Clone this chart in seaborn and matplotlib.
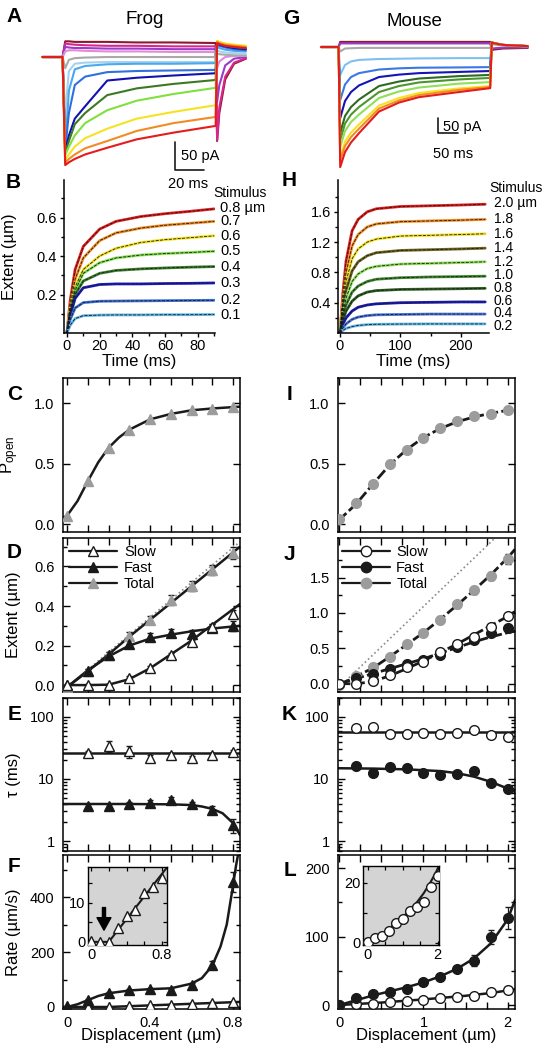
import numpy as np
import pandas as pd
import matplotlib
matplotlib.use("Agg")
import matplotlib.pyplot as plt
import seaborn as sns
from matplotlib.lines import Line2D
from matplotlib.ticker import MultipleLocator, NullFormatter

sns.set_theme(style="ticks")
plt.rcParams["font.family"] = ["Liberation Sans", "DejaVu Sans"]
plt.rcParams["mathtext.default"] = "regular"
for k in ["axes.edgecolor", "xtick.color", "ytick.color", "axes.labelcolor", "text.color"]:
    plt.rcParams[k] = "black"

# ---------------- data ----------------
# A: frog MET currents (pA) vs time (ms)
frog_time = [-14, -0.3, 1.5, 4, 8, 15, 30, 50, 75, 103.5, 104.5, 106, 110, 116, 124]
frog_names = ["maroon", "magenta", "purple", "orchid", "gray", "lightblue", "sky",
              "royal", "navy", "dgreen", "lgreen", "yellow", "orange", "red"]
frog_colors = ["#8b1a2e", "#d9268f", "#9a3cc8", "#e48ad8", "#a9a9a9", "#a6d2ef", "#4aa8ec",
               "#2f6fe0", "#1212b0", "#3b7a22", "#7fe03e", "#f5e322", "#f28c22", "#e41c1c"]
frog_currents = [
    [0, 0, 28, 28, 27, 27, 27, 26, 26, 25, -150, -100, -40, -12, -3],
    [0, 0, 24, 23, 22, 21, 20, 20, 19, 19, -148, -90, -35, -10, -2],
    [0, 0, 18, 17, 16, 16, 15, 15, 14, 14, -80, -50, -15, -3, 0],
    [0, 0, 10, 12, 12, 11, 10, 10, 9, 9, -20, -8, 0, 2, 2],
    [0, 0, -20, -5, -2, -1, 0, 0, 0, 0, 6, 5, 4, 3, 3],
    [0, 0, -100, -25, -12, -10, -9, -9, -9, -9, 12, 10, 8, 7, 6],
    [0, 0, -160, -60, -22, -16, -13, -12, -12, -11, 18, 16, 13, 11, 10],
    [0, 0, -165, -100, -50, -35, -27, -25, -24, -23, 22, 20, 17, 14, 12],
    [0, 0, -167, -140, -110, -88, -42, -37, -33, -29, 24, 22, 19, 16, 14],
    [0, 0, -171, -150, -120, -100, -68, -56, -48, -41, 26, 24, 21, 18, 16],
    [0, 0, -175, -160, -140, -118, -95, -78, -66, -55, 28, 26, 23, 20, 18],
    [0, 0, -184, -174, -160, -145, -128, -110, -98, -86, 29, 27, 24, 22, 20],
    [0, 0, -189, -182, -174, -163, -150, -132, -118, -107, 27, 25, 22, 20, 18],
    [0, 0, -193, -188, -182, -174, -162, -147, -135, -123, 25, 23, 20, 18, 16],
]

# G: mouse MET currents
mouse_time = [-45, -1, 3, 15, 30, 50, 100, 150, 200, 300, 378, 382, 390, 410, 472]
mouse_names = ["maroon", "purple", "gray", "lightblue", "royal", "navy", "dgreen",
               "green", "lgreen", "yellow", "orange", "red"]
mouse_colors = ["#8b1a2e", "#9a3cc8", "#a9a9a9", "#7fc0ec", "#3a78e6", "#1414b8", "#2e6b22",
                "#4c9630", "#8fe054", "#f5e322", "#f28c22", "#e41c1c"]
mouse_currents = [
    [0, 0, 17, 17, 17, 17, 17, 17, 17, 17, 17, -10, -8, -5, -3],
    [0, 0, 12, 12, 12, 12, 12, 12, 12, 12, 12, -5, -4, -2, -1],
    [0, 0, -15, -5, -4, -3, -3, -3, -3, -3, -3, 10, 8, 5, 2],
    [0, 0, -93, -60, -48, -43, -40, -39, -38, -37, -37, 14, 11, 6, 2],
    [0, 0, -177, -125, -100, -87, -75, -71, -69, -68, -67, 15, 12, 7, 3],
    [0, 0, -237, -180, -150, -128, -100, -92, -87, -83, -80, 15, 12, 7, 3],
    [0, 0, -287, -230, -200, -175, -130, -115, -105, -97, -93, 15, 12, 7, 3],
    [0, 0, -310, -255, -225, -200, -150, -130, -118, -108, -103, 15, 12, 7, 3],
    [0, 0, -333, -280, -250, -225, -170, -148, -135, -122, -117, 15, 12, 7, 3],
    [0, 0, -367, -315, -285, -258, -195, -170, -153, -138, -130, 15, 12, 7, 3],
    [0, 0, -377, -330, -300, -272, -205, -178, -160, -143, -133, 15, 12, 7, 3],
    [0, 0, -400, -350, -318, -287, -215, -185, -167, -150, -137, 15, 12, 7, 3],
]

# B: frog bundle extent
b_time = [0, 2, 5, 10, 20, 30, 45, 60, 75, 90]
b_labels = ["0.8 µm", "0.7", "0.6", "0.5", "0.4", "0.3", "0.2", "0.1"]
b_label_y = [0.647, 0.58, 0.505, 0.425, 0.345, 0.26, 0.17, 0.096]
b_colors = ["#e41c1c", "#f28c22", "#f5e322", "#80e04a", "#3a7d2a", "#1a1ac0", "#3b6fd8", "#62b8ea"]
b_extent = [
    [0, 0.17, 0.33, 0.45, 0.54, 0.58, 0.605, 0.62, 0.632, 0.645],
    [0, 0.14, 0.28, 0.39, 0.48, 0.52, 0.545, 0.56, 0.57, 0.58],
    [0, 0.12, 0.24, 0.33, 0.40, 0.44, 0.47, 0.485, 0.495, 0.505],
    [0, 0.11, 0.22, 0.31, 0.365, 0.39, 0.405, 0.413, 0.418, 0.425],
    [0, 0.10, 0.20, 0.27, 0.31, 0.325, 0.333, 0.338, 0.342, 0.345],
    [0, 0.09, 0.18, 0.235, 0.252, 0.255, 0.255, 0.257, 0.258, 0.26],
    [0, 0.07, 0.13, 0.158, 0.165, 0.166, 0.167, 0.168, 0.169, 0.17],
    [0, 0.04, 0.075, 0.09, 0.093, 0.094, 0.094, 0.095, 0.095, 0.096],
]

# H: mouse bundle extent
h_time = [0, 5, 10, 20, 30, 45, 60, 100, 150, 200, 240]
h_labels = ["2.0 µm", "1.8", "1.6", "1.4", "1.2", "1.0", "0.8", "0.6", "0.4", "0.2"]
h_label_y = [1.71, 1.50, 1.31, 1.12, 0.94, 0.76, 0.595, 0.425, 0.265, 0.095]
h_colors = ["#e41c1c", "#f28c22", "#f5e322", "#6e6420", "#8ee05a", "#3f8a2e", "#2e5e22",
            "#1a1ab8", "#4a74dc", "#62b8ea"]
h_extent = [
    [0, 0.55, 0.95, 1.35, 1.5, 1.6, 1.64, 1.67, 1.68, 1.69, 1.70],
    [0, 0.45, 0.8, 1.15, 1.3, 1.4, 1.44, 1.47, 1.48, 1.49, 1.50],
    [0, 0.38, 0.68, 0.98, 1.11, 1.2, 1.24, 1.28, 1.29, 1.30, 1.31],
    [0, 0.32, 0.56, 0.82, 0.94, 1.02, 1.06, 1.09, 1.10, 1.11, 1.12],
    [0, 0.27, 0.46, 0.68, 0.78, 0.85, 0.88, 0.91, 0.92, 0.93, 0.94],
    [0, 0.22, 0.37, 0.54, 0.62, 0.68, 0.71, 0.73, 0.74, 0.745, 0.75],
    [0, 0.17, 0.29, 0.42, 0.49, 0.54, 0.56, 0.575, 0.58, 0.585, 0.59],
    [0, 0.12, 0.20, 0.29, 0.34, 0.37, 0.385, 0.40, 0.405, 0.41, 0.41],
    [0, 0.07, 0.12, 0.18, 0.21, 0.23, 0.24, 0.245, 0.25, 0.25, 0.25],
    [0, 0.035, 0.06, 0.085, 0.10, 0.11, 0.115, 0.118, 0.12, 0.12, 0.12],
]

# C-F: frog vs displacement
frog_disp = [0, 0.1, 0.2, 0.3, 0.4, 0.5, 0.6, 0.7, 0.8]
frog_popen = [0.07, 0.355, 0.63, 0.78, 0.87, 0.91, 0.94, 0.95, 0.97]
frog_popen_fit_x = [-0.02, 0, 0.05, 0.1, 0.15, 0.2, 0.25, 0.3, 0.4, 0.5, 0.6, 0.7, 0.834]
frog_popen_fit_y = [0.05, 0.07, 0.19, 0.355, 0.51, 0.63, 0.715, 0.78, 0.865, 0.91, 0.94, 0.955, 0.97]

frog_slow_ext = [0, 0, 0, 0.035, 0.085, 0.15, 0.22, 0.295, 0.36]
frog_slow_err = [0, 0.005, 0.005, 0.01, 0.01, 0.01, 0.01, 0.015, 0.02]
frog_fast_ext = [0, 0.07, 0.15, 0.21, 0.245, 0.265, 0.26, 0.29, 0.30]
frog_fast_err = [0.005, 0.01, 0.015, 0.02, 0.02, 0.02, 0.02, 0.02, 0.025]
frog_total_ext = [-0.01, 0.07, 0.15, 0.25, 0.33, 0.43, 0.50, 0.58, 0.67]
frog_total_err = [0.005, 0.01, 0.015, 0.02, 0.02, 0.025, 0.025, 0.025, 0.03]
frog_fit_x = [0, 0.1, 0.2, 0.3, 0.4, 0.5, 0.6, 0.7, 0.834]
frog_total_fit = [-0.01, 0.07, 0.155, 0.245, 0.33, 0.415, 0.5, 0.585, 0.70]
frog_fast_fit = [-0.01, 0.075, 0.145, 0.2, 0.235, 0.255, 0.272, 0.286, 0.30]
frog_slow_fit = [0.0, 0.0, 0.002, 0.03, 0.085, 0.155, 0.225, 0.305, 0.41]
frog_dotted_x = [0, 0.834]
frog_dotted_y = [-0.01, 0.725]

frog_tau_x = [0.1, 0.2, 0.3, 0.4, 0.5, 0.6, 0.7, 0.8]
frog_slow_tau = [26, 34, 28, 22, 24, 22, 24, 27]
frog_slow_tau_err = [2, 7, 6, 2, 2, 1.5, 2, 2]
frog_fast_tau = [3.7, 3.6, 3.9, 4.1, 4.5, 3.9, 3.2, 1.8]
frog_fast_tau_err = [0.3, 0.3, 0.4, 0.5, 0.6, 0.4, 0.4, 0.45]
frog_slow_tau_fit_x = [-0.02, 0.834]
frog_slow_tau_fit_y = [26, 26]
frog_fast_tau_fit_x = [-0.02, 0.1, 0.3, 0.5, 0.6, 0.65, 0.7, 0.75, 0.8, 0.834]
frog_fast_tau_fit_y = [3.95, 3.95, 3.95, 3.9, 3.8, 3.6, 3.3, 2.8, 1.95, 1.25]

frog_fast_rate = [2, 25, 52, 62, 65, 62, 80, 153, 455]
frog_fast_rate_err = [1, 3, 4, 4, 5, 5, 6, 15, 35]
frog_slow_rate = [0.1, 0, 0, 3.5, 6.7, 8.2, 12.5, 14.1, 16.4]
frog_fast_rate_fit_x = [0, 0.05, 0.1, 0.15, 0.2, 0.3, 0.4, 0.5, 0.6, 0.65, 0.7, 0.74, 0.77, 0.8, 0.815, 0.826]
frog_fast_rate_fit_y = [0, 10, 25, 40, 50, 60, 65, 68, 85, 105, 150, 220, 300, 440, 515, 560]
frog_slow_rate_fit_x = [-0.034, 0.2, 0.856]
frog_slow_rate_fit_y = [0, 0, 19.1]

# I-L: mouse vs displacement
mouse_disp = [0, 0.2, 0.4, 0.6, 0.8, 1.0, 1.2, 1.4, 1.6, 1.8, 2.0]
mouse_popen = [0.04, 0.17, 0.33, 0.50, 0.61, 0.71, 0.79, 0.85, 0.89, 0.91, 0.94]
mouse_popen_fit_x = [-0.015, 0, 0.2, 0.4, 0.6, 0.8, 1.0, 1.2, 1.4, 1.6, 1.8, 2.0, 2.087]
mouse_popen_fit_y = [0.03, 0.035, 0.165, 0.33, 0.49, 0.615, 0.715, 0.79, 0.845, 0.885, 0.915, 0.94, 0.95]

mouse_slow_ext = [0, 0, 0.04, 0.12, 0.23, 0.31, 0.44, 0.56, 0.66, 0.80, 0.95]
mouse_slow_err = [0, 0, 0.01, 0.01, 0.01, 0.02, 0.02, 0.03, 0.03, 0.04, 0.04]
mouse_fast_ext = [0, 0.08, 0.14, 0.2, 0.27, 0.34, 0.41, 0.51, 0.62, 0.71, 0.78]
mouse_fast_err = [0, 0.01, 0.01, 0.01, 0.02, 0.02, 0.02, 0.03, 0.03, 0.04, 0.05]
mouse_total_ext = [-0.02, 0.1, 0.24, 0.38, 0.56, 0.72, 0.9, 1.12, 1.32, 1.52, 1.76]
mouse_total_err = [0.01, 0.01, 0.015, 0.02, 0.02, 0.03, 0.04, 0.05, 0.05, 0.06, 0.07]
mouse_fit_x = [0, 0.2, 0.4, 0.6, 0.8, 1.0, 1.2, 1.4, 1.6, 1.8, 2.0, 2.087]
mouse_total_fit = [-0.02, 0.1, 0.22, 0.38, 0.55, 0.72, 0.91, 1.11, 1.32, 1.54, 1.78, 1.9]
mouse_slow_fit = [0, -0.005, 0.03, 0.11, 0.21, 0.32, 0.44, 0.56, 0.69, 0.82, 0.95, 1.02]
mouse_fast_fit = [0, 0.07, 0.14, 0.21, 0.28, 0.35, 0.43, 0.51, 0.59, 0.66, 0.72, 0.74]
mouse_dotted_x = [0, 1.85]
mouse_dotted_y = [-0.05, 2.06]

mouse_tau_x = [0.2, 0.4, 0.6, 0.8, 1.0, 1.2, 1.4, 1.6, 1.8, 2.0]
mouse_slow_tau = [66, 68, 53, 53, 56, 53, 56, 62, 51, 47]
mouse_fast_tau = [16.2, 12.7, 15.8, 14.9, 12.3, 11.6, 12.0, 13.6, 8.5, 6.8]
mouse_slow_tau_fit_x = [-0.015, 2.087]
mouse_slow_tau_fit_y = [57.5, 57.5]
mouse_fast_tau_fit_x = [-0.015, 0.4, 0.8, 1.2, 1.4, 1.6, 1.8, 2.0, 2.087]
mouse_fast_tau_fit_y = [14.9, 14.7, 14.3, 13.4, 12.4, 10.9, 9.0, 7.0, 6.2]

mouse_fast_rate = [0, 9.7, 16, 19.5, 23, 33, 40.4, 52.5, 64.7, 99.7, 126.6]
mouse_fast_rate_err = [0, 2, 2, 3, 3, 3, 3, 4, 8, 10, 16]
mouse_slow_rate = [0.3, 1.5, 2.2, 4, 6.5, 7.8, 10.7, 11.8, 13.5, 18.5, 22.2]
mouse_fast_rate_fit_x = [0, 0.2, 0.4, 0.6, 0.8, 1.0, 1.2, 1.4, 1.6, 1.8, 2.0, 2.087]
mouse_fast_rate_fit_y = [0, 7, 14, 20, 26, 33, 42, 53, 68, 90, 125, 153]
mouse_slow_rate_fit_x = [0, 0.5, 1.0, 1.5, 1.8, 2.087]
mouse_slow_rate_fit_y = [0, 3.6, 8.2, 13.5, 17.5, 23]
inset_slow_fit_x = [-0.134, 0.2, 0.5, 0.8, 1.1, 1.4, 1.6, 1.8, 1.95, 2.037]
inset_slow_fit_y = [-0.2, 1.3, 3.6, 6.5, 9.6, 13.4, 16.5, 20.3, 23.5, 25.7]

GRAY = "#9c9c9c"

# ---------------- figure ----------------
W, H = 552, 1050
fig = plt.figure(figsize=(W / 100, H / 100), dpi=100)


def px_axes(x0, y0, x1, y1):
    return fig.add_axes([x0 / W, 1 - y1 / H, (x1 - x0) / W, (y1 - y0) / H])


def fig_text(x, y, s, **kw):
    fig.text(x / W, 1 - y / H, s, **kw)


def long_df(time, rows, names, col):
    recs = [(t, v, n) for n, r in zip(names, rows) for t, v in zip(time, r)]
    return pd.DataFrame(recs, columns=["t", col, "trace"])


def fit(ax, x, y, ls="-", lw=1.8, color="k"):
    sns.lineplot(x=x, y=y, ax=ax, color=color, lw=lw, linestyle=ls,
                 sort=False, estimator=None, zorder=2)


def pts(ax, x, y, err=None, marker="^", fill="k", edge="k", ms=7.5):
    ax.errorbar(x, y, yerr=err, fmt=marker, ms=ms, mfc=fill, mec=edge, mew=1,
                ecolor="k", elinewidth=0.9, capsize=2.5, capthick=0.9, zorder=3)


def boxed(ax, xmajor, xminor, xlabels=False):
    for sp in ax.spines.values():
        sp.set_visible(True)
        sp.set_linewidth(1.1)
        sp.set_color("black")
    ax.xaxis.set_major_locator(MultipleLocator(xmajor))
    ax.xaxis.set_minor_locator(MultipleLocator(xminor))
    ax.tick_params(which="both", direction="in", top=True, right=True, left=True,
                   bottom=True, labelsize=10.5, width=1, length=5)
    ax.tick_params(axis="y", which="minor", length=3)
    ax.tick_params(axis="y", pad=6)
    ax.tick_params(axis="x", pad=5, labelbottom=xlabels)
    ax.set_xlabel("")
    ax.set_ylabel("")


def traces(ax, time, rows, names, colors, xlim, ylim):
    df = long_df(time, rows, names, "pA")
    sns.lineplot(data=df, x="t", y="pA", hue="trace", palette=dict(zip(names, colors)),
                 legend=False, lw=1.5, estimator=None, sort=False, ax=ax)
    ax.set_xlim(*xlim)
    ax.set_ylim(*ylim)
    ax.axis("off")


# A and G: current traces with scale bars
axA = px_axes(40, 35, 250, 180)
traces(axA, frog_time, frog_currents, frog_names, frog_colors, (-15.6, 126.8), (-219.6, 39.3))
axA.plot([75.9, 75.9, 95.9], [-151.8, -201.8, -201.8], color="k", lw=1.2, clip_on=False)

axG = px_axes(318, 35, 532, 180)
traces(axG, mouse_time, mouse_currents, mouse_names, mouse_colors, (-52.5, 482.5), (-443, 40))
axG.plot([247.5, 247.5, 297.5], [-236.7, -286.7, -286.7], color="k", lw=1.2, clip_on=False)

fig_text(181, 156, "50 pA", fontsize=10.5, ha="left", va="center")
fig_text(188, 184, "20 ms", fontsize=10.5, ha="center", va="center")
fig_text(443, 127, "50 pA", fontsize=10.5, ha="left", va="center")
fig_text(453, 154, "50 ms", fontsize=10.5, ha="center", va="center")
fig_text(145, 20, "Frog", fontsize=13.5, ha="center", va="center")
fig_text(414, 22, "Mouse", fontsize=13.5, ha="center", va="center")


# B and H: bundle displacement traces
def extent_panel(box, time, rows, labels, label_y, colors, xlim, ylim, xt, xtm, yt, ytm,
                 lab_x, stim_xy, lab_size):
    ax = px_axes(*box)
    df = long_df(time, rows, labels, "ext")
    sns.lineplot(data=df, x="t", y="ext", hue="trace", palette=dict(zip(labels, colors)),
                 legend=False, lw=2, estimator=None, sort=False, ax=ax)
    sns.lineplot(data=df, x="t", y="ext", units="trace", color="k", lw=0.6, linestyle="--",
                 estimator=None, sort=False, ax=ax)
    for lab, ly in zip(labels, label_y):
        ax.text(lab_x, ly, lab, fontsize=lab_size, ha="left", va="center")
    ax.text(stim_xy[0], stim_xy[1], "Stimulus", fontsize=10, ha="center", va="center")
    ax.set_xlim(*xlim)
    ax.set_ylim(*ylim)
    sns.despine(ax=ax)
    ax.spines["left"].set_linewidth(1.1)
    ax.spines["bottom"].set_linewidth(1.1)
    ax.set_xticks(xt)
    ax.set_xticks(xtm, minor=True)
    ax.set_yticks(yt)
    ax.set_yticks(ytm, minor=True)
    ax.tick_params(which="both", direction="out", labelsize=10.5, width=1)
    ax.tick_params(which="major", length=3)
    ax.tick_params(which="minor", length=2)
    ax.tick_params(axis="x", pad=1.5)
    ax.tick_params(axis="y", pad=2)
    ax.set_xlabel("Time (ms)", fontsize=12)
    ax.xaxis.set_label_coords(0.5, -0.14)
    ax.set_ylabel("")
    return ax


axB = extent_panel((64, 180, 215, 333), b_time, b_extent, b_labels, b_label_y, b_colors,
                   (-1.8, 90.5), (0, 0.795), [0, 20, 40, 60, 80], [10, 30, 50, 70, 90],
                   [0.2, 0.4, 0.6], [0.1, 0.3, 0.5, 0.7], 93.5, (106, 0.725), 10.5)
axB.set_ylabel("Extent (µm)", fontsize=12)
axB.yaxis.set_label_coords(-0.31, 0.5)

axH = extent_panel((338, 180, 489, 333), h_time, h_extent, h_labels, h_label_y, h_colors,
                   (-3.3, 246.3), (0, 2.02), [0, 100, 200], [50, 150],
                   [0.4, 0.8, 1.2, 1.6], [0.2, 0.6, 1.0, 1.4, 1.8], 254.5, (291, 1.92), 10)

# C / I: open probability
axC = px_axes(63, 378, 240, 532)
fit(axC, frog_popen_fit_x, frog_popen_fit_y)
pts(axC, frog_disp, frog_popen, marker="^", fill=GRAY, edge=GRAY)
axC.set_xlim(-0.02, 0.834)
axC.set_ylim(-0.066, 1.207)
boxed(axC, 0.4, 0.1)
axC.set_yticks([0, 0.5, 1.0])
axC.set_ylabel(r"$P_{open}$", fontsize=12)
axC.yaxis.set_label_coords(-0.24, 0.5)

axI = px_axes(338, 378, 515, 532)
fit(axI, mouse_popen_fit_x, mouse_popen_fit_y, ls=(0, (4, 1.2)), lw=2)
pts(axI, mouse_disp, mouse_popen, marker="o", fill=GRAY, edge=GRAY, ms=7)
axI.set_xlim(-0.015, 2.087)
axI.set_ylim(-0.066, 1.207)
boxed(axI, 1, 0.25)
axI.set_yticks([0, 0.5, 1.0])

# D / J: extent components
axD = px_axes(63, 538, 240, 692)
fit(axD, frog_dotted_x, frog_dotted_y, ls=":", lw=1.2, color="#8a8a8a")
fit(axD, frog_fit_x, frog_total_fit)
fit(axD, frog_fit_x, frog_fast_fit)
fit(axD, frog_fit_x, frog_slow_fit)
pts(axD, frog_disp, frog_total_ext, frog_total_err, "^", GRAY, GRAY)
pts(axD, frog_disp, frog_fast_ext, frog_fast_err, "^", "k", "k")
pts(axD, frog_disp, frog_slow_ext, frog_slow_err, "^", "white", "k")
axD.set_xlim(-0.02, 0.834)
axD.set_ylim(-0.035, 0.744)
boxed(axD, 0.4, 0.1)
axD.yaxis.set_major_locator(MultipleLocator(0.2))
axD.yaxis.set_minor_locator(MultipleLocator(0.1))
axD.set_ylabel("Extent (µm)", fontsize=12)
axD.yaxis.set_label_coords(-0.24, 0.5)


def comp_legend(ax, marker, x0):
    hs = [Line2D([], [], color="k", lw=1.6, marker=marker, ms=7.5, mfc=f, mec=e, mew=1)
          for f, e in [("white", "k"), ("k", "k"), (GRAY, GRAY)]]
    ax.legend(hs, ["Slow", "Fast", "Total"], loc="upper left", bbox_to_anchor=(x0, 0.955),
              frameon=False, fontsize=10.5, handlelength=3.3, handletextpad=0.45,
              labelspacing=0.15, borderpad=0, borderaxespad=0)


comp_legend(axD, "^", 0.035)

axJ = px_axes(338, 538, 515, 692)
fit(axJ, mouse_dotted_x, mouse_dotted_y, ls=":", lw=1.2, color="#8a8a8a")
fit(axJ, mouse_fit_x, mouse_total_fit, ls=(0, (4, 1.2)), lw=2)
fit(axJ, mouse_fit_x, mouse_fast_fit, ls=(0, (4, 1.2)), lw=2)
fit(axJ, mouse_fit_x, mouse_slow_fit, ls=(0, (4, 1.2)), lw=2)
pts(axJ, mouse_disp, mouse_total_ext, mouse_total_err, "o", GRAY, GRAY, 7)
pts(axJ, mouse_disp, mouse_fast_ext, mouse_fast_err, "o", "k", "k", 7)
pts(axJ, mouse_disp, mouse_slow_ext, mouse_slow_err, "o", "white", "k", 7)
axJ.set_xlim(-0.015, 2.087)
axJ.set_ylim(-0.12, 2.06)
boxed(axJ, 1, 0.25)
axJ.set_yticks([0, 0.5, 1.0, 1.5])
axJ.set_yticks([0.25, 0.75, 1.25, 1.75], minor=True)
comp_legend(axJ, "o", 0.02)


# E / K: time constants
def log_axis(ax):
    ax.set_yscale("log")
    ax.set_yticks([1, 10, 100], labels=["1", "10", "100"])
    ax.yaxis.set_minor_formatter(NullFormatter())


axE = px_axes(63, 698, 240, 851)
fit(axE, frog_slow_tau_fit_x, frog_slow_tau_fit_y)
fit(axE, frog_fast_tau_fit_x, frog_fast_tau_fit_y)
pts(axE, frog_tau_x, frog_slow_tau, frog_slow_tau_err, "^", "white", "k")
pts(axE, frog_tau_x, frog_fast_tau, frog_fast_tau_err, "^", "k", "k")
axE.set_xlim(-0.02, 0.834)
boxed(axE, 0.4, 0.1)
log_axis(axE)
axE.set_ylim(0.69, 202)
axE.set_ylabel("τ (ms)", fontsize=12)
axE.yaxis.set_label_coords(-0.24, 0.5)

axK = px_axes(338, 698, 515, 851)
fit(axK, mouse_slow_tau_fit_x, mouse_slow_tau_fit_y)
fit(axK, mouse_fast_tau_fit_x, mouse_fast_tau_fit_y)
pts(axK, mouse_tau_x, mouse_slow_tau, None, "o", "white", "k", 7)
pts(axK, mouse_tau_x, mouse_fast_tau, None, "o", "k", "k", 7)
axK.set_xlim(-0.015, 2.087)
boxed(axK, 1, 0.25)
log_axis(axK)
axK.set_ylim(0.69, 202)

# F / L: rates
axF = px_axes(63, 855, 240, 1009)
fit(axF, frog_fast_rate_fit_x, frog_fast_rate_fit_y)
fit(axF, frog_slow_rate_fit_x, frog_slow_rate_fit_y)
pts(axF, frog_disp, frog_slow_rate, None, "^", "white", "k")
pts(axF, frog_disp, frog_fast_rate, frog_fast_rate_err, "^", "k", "k")
axF.set_xlim(-0.02, 0.834)
axF.set_ylim(-7.3, 553)
boxed(axF, 0.4, 0.1, xlabels=True)
axF.set_xticks([0, 0.4, 0.8], labels=["0", "0.4", "0.8"])
axF.set_yticks([0, 200, 400])
axF.set_yticks([100, 300, 500], minor=True)
axF.set_ylabel("Rate (µm/s)", fontsize=12)
axF.yaxis.set_label_coords(-0.24, 0.5)
axF.set_xlabel("Displacement (µm)", fontsize=12)
axF.xaxis.set_label_coords(0.5, -0.125)

axL = px_axes(338, 855, 515, 1009)
fit(axL, mouse_fast_rate_fit_x, mouse_fast_rate_fit_y)
fit(axL, mouse_slow_rate_fit_x, mouse_slow_rate_fit_y)
pts(axL, mouse_disp, mouse_slow_rate, None, "o", "white", "k", 7)
pts(axL, mouse_disp, mouse_fast_rate, mouse_fast_rate_err, "o", "k", "k", 7)
axL.set_xlim(-0.015, 2.087)
axL.set_ylim(-5.8, 219)
boxed(axL, 1, 0.25, xlabels=True)
axL.set_xticks([0, 1, 2], labels=["0", "1", "2"])
axL.set_yticks([0, 100, 200])
axL.set_yticks([50, 150], minor=True)
axL.set_xlabel("Displacement (µm)", fontsize=12)
axL.xaxis.set_label_coords(0.5, -0.125)


# insets
def inset_style(ax):
    ax.set_facecolor("#d4d4d4")
    for sp in ax.spines.values():
        sp.set_visible(True)
        sp.set_linewidth(1)
        sp.set_color("black")
    ax.tick_params(which="both", direction="in", top=True, right=True, labelsize=10.5,
                   width=0.9, length=3, pad=2)
    ax.set_xlabel("")
    ax.set_ylabel("")


axFi = px_axes(88, 867, 167, 945)
fit(axFi, frog_slow_rate_fit_x, frog_slow_rate_fit_y, lw=1.5)
pts(axFi, frog_disp, frog_slow_rate, None, "^", "white", "k", 7)
axFi.annotate("", xy=(0.146, 3.0), xytext=(0.146, 8.8),
              arrowprops=dict(facecolor="black", edgecolor="black", width=2.2,
                              headwidth=10, headlength=9, shrink=0))
axFi.set_xlim(-0.034, 0.856)
axFi.set_ylim(-0.8, 19.2)
inset_style(axFi)
axFi.set_xticks([0, 0.8], labels=["0", "0.8"])
axFi.set_xticks([0.2, 0.4, 0.6], minor=True)
axFi.set_yticks([0, 10], labels=["0", "10"])
axFi.set_yticks([5, 15], minor=True)

axLi = px_axes(363, 866, 439, 945)
fit(axLi, inset_slow_fit_x, inset_slow_fit_y, lw=1.5)
pts(axLi, mouse_disp, mouse_slow_rate, None, "o", "white", "k", 7)
axLi.set_xlim(-0.134, 2.037)
axLi.set_ylim(-0.77, 25.6)
inset_style(axLi)
axLi.set_xticks([0, 2], labels=["0", "2"])
axLi.set_xticks([0.5, 1.0, 1.5], minor=True)
axLi.set_yticks([0, 20], labels=["0", "20"])
axLi.set_yticks([10], minor=True)

# panel letters
letters = {"A": (14, 17), "B": (13, 182), "C": (15, 394), "D": (14, 553), "E": (15, 715),
           "F": (14, 866), "G": (291, 18), "H": (289, 180), "I": (290, 395), "J": (289, 555),
           "K": (289, 715), "L": (290, 871)}
for s, (x, y) in letters.items():
    fig_text(x, y, s, fontsize=15, fontweight="bold", ha="center", va="center")

fig.savefig("out.png", dpi=100)
